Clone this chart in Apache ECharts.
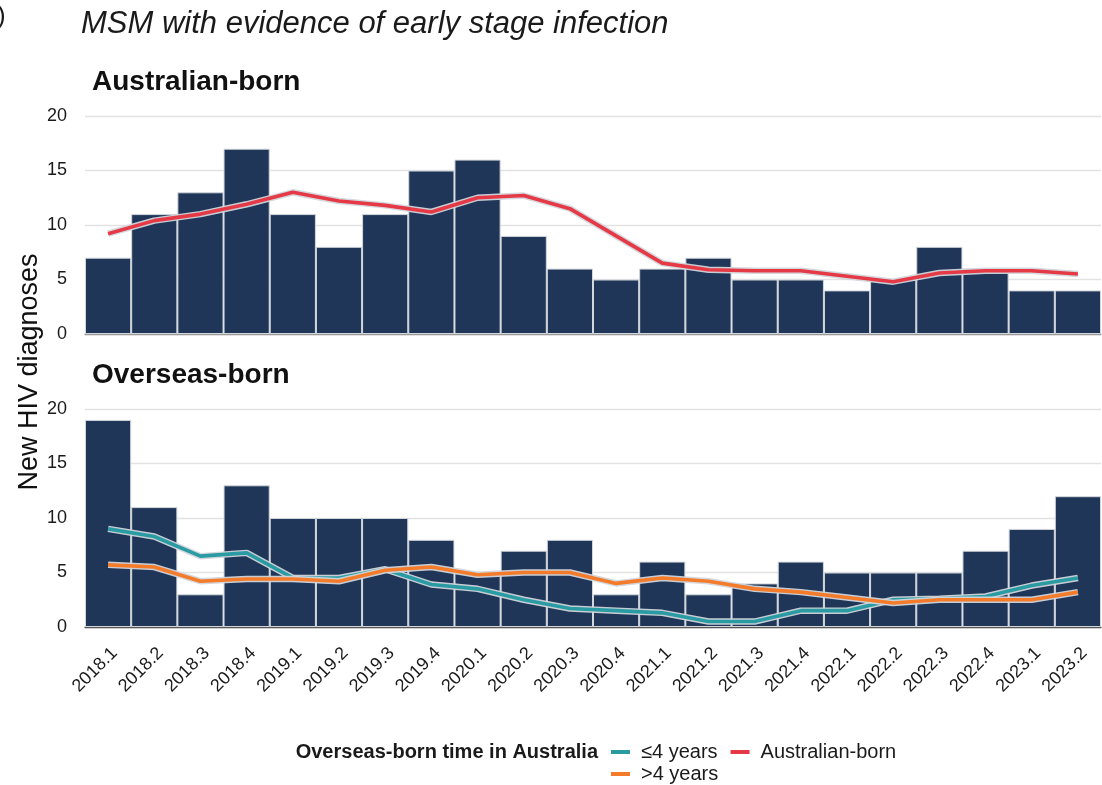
<!DOCTYPE html>
<html>
<head>
<meta charset="utf-8">
<style>
  html, body { margin: 0; padding: 0; background: #fff; }
  #chart { width: 1102px; height: 785px; }
</style>
<script src="https://cdn.jsdelivr.net/npm/echarts@6/dist/echarts.min.js"></script>
</head>
<body>
<div id="chart"></div>
<script>
// Quarterly new HIV diagnoses, MSM with evidence of early stage infection
const quarters = ['2018.1','2018.2','2018.3','2018.4','2019.1','2019.2','2019.3','2019.4',
  '2020.1','2020.2','2020.3','2020.4','2021.1','2021.2','2021.3','2021.4',
  '2022.1','2022.2','2022.3','2022.4','2023.1','2023.2'];

// Australian-born: quarterly counts and smoothed trend
const ausBornCounts = [7,11,13,17,11,8,11,15,16,9,6,5,6,7,5,5,4,5,8,6,4,4];
const ausBornTrend = [9.2,10.4,11.0,11.9,13.0,12.2,11.8,11.2,12.5,12.7,11.5,9.0,6.5,5.9,5.8,5.8,5.3,4.8,5.6,5.8,5.8,5.5];

// Overseas-born: quarterly counts and trends by time in Australia
const overseasCounts = [19,11,3,13,10,10,10,8,5,7,8,3,6,3,4,6,5,5,5,7,9,12];
const upTo4Years = [9.0,8.3,6.5,6.8,4.5,4.5,5.3,3.9,3.5,2.5,1.7,1.5,1.3,0.5,0.5,1.5,1.5,2.5,2.6,2.8,3.8,4.5];
const over4Years = [5.7,5.5,4.2,4.4,4.4,4.2,5.2,5.5,4.8,5.0,5.0,4.0,4.5,4.2,3.5,3.2,2.7,2.2,2.5,2.5,2.5,3.2];

const yTicks = [0, 5, 10, 15, 20];

const FONT = "'Liberation Sans', Arial, sans-serif";
const NAVY = '#1f3658';
const RED = '#e63946';
const TEAL = '#2a9ba3';
const ORANGE = '#f47b2a';
const HALO = 'rgba(210,214,220,0.95)';

const chart = echarts.init(document.getElementById('chart'), null, { renderer: 'canvas' });

function yAxis(gridIndex) {
  return {
    type: 'value', gridIndex,
    min: yTicks[0], max: yTicks[yTicks.length - 1], interval: yTicks[1] - yTicks[0],
    axisLine: { show: false },
    axisTick: { show: false },
    axisLabel: { color: '#1a1a1a', fontSize: 18, fontFamily: FONT, margin: 18 },
    splitLine: { lineStyle: { color: '#e2e2e2', width: 1.3 } }
  };
}

function barSeries(name, data, idx) {
  return {
    name, type: 'bar', xAxisIndex: idx, yAxisIndex: idx, data,
    barCategoryGap: '0%',
    itemStyle: { color: NAVY, borderColor: '#d3d7dc', borderWidth: 1 },
    silent: true, z: 2
  };
}

function lineSeries(name, data, idx, color, z) {
  return [
    {
      name: name + ' outline', type: 'line', xAxisIndex: idx, yAxisIndex: idx, data,
      symbol: 'none', silent: true, z: z,
      lineStyle: { color: HALO, width: 6.5 }, itemStyle: { color: HALO }
    },
    {
      name, type: 'line', xAxisIndex: idx, yAxisIndex: idx, data,
      symbol: 'none', z: z + 1,
      lineStyle: { color, width: 3.6 }, itemStyle: { color }
    }
  ];
}

const legendText = { color: '#1a1a1a', fontSize: 20, fontFamily: FONT, padding: [0, 0, 0, 6] };

const option = {
  backgroundColor: '#ffffff',
  animation: false,
  textStyle: { fontFamily: FONT },
  grid: [
    { left: 85, right: 1, top: 116, height: 218 },
    { left: 85, right: 1, top: 409, height: 218 }
  ],
  xAxis: [
    {
      type: 'category', gridIndex: 0, data: quarters, boundaryGap: true,
      axisLine: { lineStyle: { color: '#9a9a9a', width: 1.3 } },
      axisTick: { show: false }, axisLabel: { show: false }
    },
    {
      type: 'category', gridIndex: 1, data: quarters, boundaryGap: true,
      axisLine: { lineStyle: { color: '#555555', width: 1.3 } },
      axisTick: { alignWithLabel: true, length: 6, lineStyle: { color: '#9a9a9a', width: 1.2 } },
      axisLabel: { rotate: 45, color: '#1a1a1a', fontSize: 18, fontFamily: FONT, margin: 17,
                   verticalAlign: 'top', interval: 0 }
    }
  ],
  yAxis: [yAxis(0), yAxis(1)],
  legend: [
    {
      data: ['≤4 years', 'Australian-born'],
      left: 611, top: 742, orient: 'horizontal', padding: 0,
      icon: 'rect', itemWidth: 19, itemHeight: 4, itemGap: 13,
      textStyle: legendText, selectedMode: false
    },
    {
      data: ['>4 years'],
      left: 611, top: 764, orient: 'horizontal', padding: 0,
      icon: 'rect', itemWidth: 19, itemHeight: 4,
      textStyle: legendText, selectedMode: false
    }
  ],
  graphic: [
    { type: 'text', left: -3, top: 4,
      style: { text: ')', font: '26px ' + FONT, fill: '#1a1a1a' } },
    { type: 'text', left: 81, top: 9,
      style: { text: 'MSM with evidence of early stage infection', font: 'italic 31px ' + FONT, fill: '#1a1a1a' } },
    { type: 'text', left: 92, top: 68,
      style: { text: 'Australian-born', font: 'bold 28px ' + FONT, fill: '#111' } },
    { type: 'text', left: 92, top: 361,
      style: { text: 'Overseas-born', font: 'bold 28px ' + FONT, fill: '#111' } },
    { type: 'text', x: 30, y: 372, rotation: Math.PI / 2,
      style: { text: 'New HIV diagnoses', font: '27px ' + FONT, fill: '#111',
               textAlign: 'center', textVerticalAlign: 'middle' } },
    { type: 'text', x: 598, y: 752,
      style: { text: 'Overseas-born time in Australia', font: 'bold 20px ' + FONT, fill: '#1a1a1a',
               textAlign: 'right', textVerticalAlign: 'middle' } }
  ],
  series: [
    barSeries('Australian-born diagnoses', ausBornCounts, 0),
    ...lineSeries('Australian-born', ausBornTrend, 0, RED, 5),
    barSeries('Overseas-born diagnoses', overseasCounts, 1),
    ...lineSeries('≤4 years', upTo4Years, 1, TEAL, 5),
    ...lineSeries('>4 years', over4Years, 1, ORANGE, 7)
  ]
};

chart.setOption(option);
</script>
</body>
</html>
